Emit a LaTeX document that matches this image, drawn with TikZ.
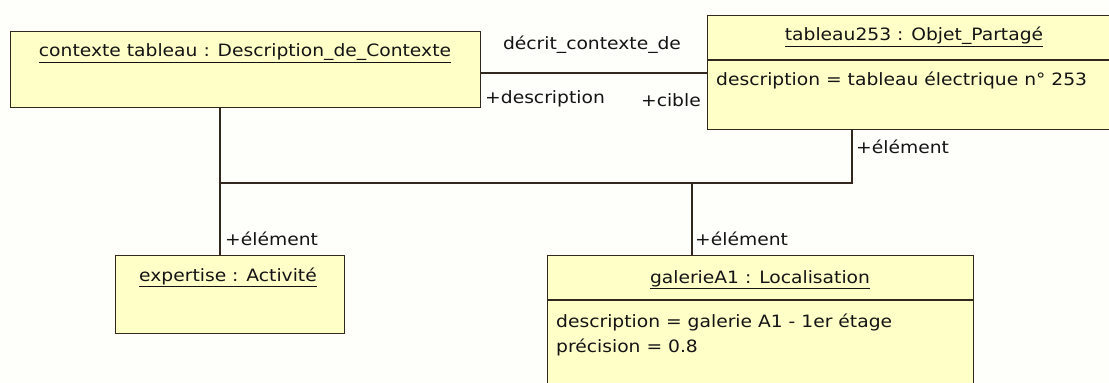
\documentclass[tikz,border=0pt]{standalone}
\usepackage{fontspec}
\setmainfont[FakeStretch=1.1]{DejaVu Sans}
\begin{document}
\begin{tikzpicture}[x=1pt,y=-1pt,
  box/.style={draw=linec, fill=boxfill, line width=1.3pt, inner sep=0pt, anchor=north west},
  conn/.style={draw=linec, line width=1.2pt},
  txt/.style={inner sep=0pt, text=txtc, font=\fontsize{17}{20}\selectfont},
  ]
\definecolor{linec}{RGB}{50,40,30}
\definecolor{boxfill}{RGB}{255,255,200}
\definecolor{txtc}{RGB}{20,20,20}
\definecolor{bgc}{RGB}{254,254,250}
\fill[bgc] (0,0) rectangle (1109,383);
\useasboundingbox (0,0) rectangle (1109,383);
\clip (0,0) rectangle (1109,383);
% boxes
\node[box, minimum width=470pt, minimum height=76pt] (b1) at (10,31) {};
\node[box, minimum width=414pt, minimum height=114pt] (b2) at (707,15) {};
\node[box, minimum width=229pt, minimum height=78pt] (b3) at (115,255) {};
\node[box, minimum width=426pt, minimum height=160pt] (b4) at (547,255) {};
\draw[conn] (b2.west |- 0,60) -- (b2.east |- 0,60);
\draw[conn] (b4.west |- 0,300) -- (b4.east |- 0,300);
% titles
\node[txt] (t1) at (245,53) {\underline{contexte tableau : Description\_de\_Contexte}};
\node[txt] (t2) at (914,37) {\underline{tableau253 : Objet\_Partagé}};
\node[txt] (t3) at (228,277) {\underline{expertise : Activité}};
\node[txt] (t4) at (760,280) {\underline{galerieA1 : Localisation}};
% attributes
\node[txt, anchor=west] (a2) at (716,80) {description = tableau électrique n° 253};
\node[txt, anchor=west] (a41) at (556,322) {description = galerie A1 - 1er étage};
\node[txt, anchor=west] (a42) at (556,347) {précision = 0.8};
% connectors
\draw[conn] (b1.east |- 0,73) -- (b2.west |- 0,73);
\coordinate (j1) at (220,183);
\coordinate (j2) at (692,183);
\coordinate (j3) at (852,183);
\draw[conn] (b1.south -| j1) -- (b3.north -| j1);
\draw[conn] (j1) -- (j3) -- (b2.south -| j3);
\draw[conn] (j2) -- (b4.north -| j2);
% labels
\node[txt] (l1) at (592,45) {décrit\_contexte\_de};
\node[txt, anchor=west] (l2) at (485,99) {+description};
\node[txt, anchor=east] (l3) at (701,100) {+cible};
\node[txt, anchor=west] (l4) at (856,147) {+élément};
\node[txt, anchor=west] (l5) at (225,239) {+élément};
\node[txt, anchor=west] (l6) at (695,239) {+élément};
\end{tikzpicture}
\end{document}
